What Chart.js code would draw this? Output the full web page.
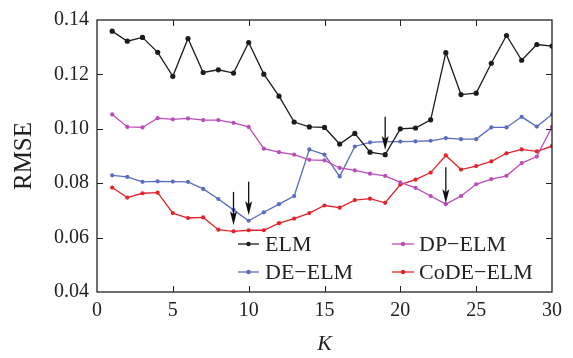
<!DOCTYPE html>
<html>
<head>
<meta charset="utf-8">
<script src="https://cdn.jsdelivr.net/npm/chart.js@4.4.1/dist/chart.umd.min.js"></script>
<style>
  html, body { margin: 0; padding: 0; background: #fff; }
  #wrap { width: 573px; height: 358px; }
</style>
</head>
<body>
<div id="wrap"><canvas id="grafico" width="573" height="358"></canvas></div>
<script>
// K values (x axis)
const kValues = [1, 2, 3, 4, 5, 6, 7, 8, 9, 10, 11, 12, 13, 14, 15, 16, 17, 18, 19, 20, 21, 22, 23, 24, 25, 26, 27, 28, 29, 30];

// RMSE per method
const elm = [0.1359, 0.1322, 0.1336, 0.1281, 0.1193, 0.1332, 0.1207, 0.1217, 0.1205, 0.1317,
             0.1201, 0.1120, 0.1025, 0.1007, 0.1005, 0.0944, 0.0983, 0.0914, 0.0905, 0.1000,
             0.1003, 0.1033, 0.1280, 0.1126, 0.1131, 0.1241, 0.1343, 0.1252, 0.1310, 0.1304];
const dpElm = [0.1053, 0.1007, 0.1005, 0.1039, 0.1035, 0.1038, 0.1032, 0.1032, 0.1022, 0.1007,
               0.0927, 0.0914, 0.0905, 0.0886, 0.0884, 0.0856, 0.0847, 0.0835, 0.0827, 0.0803,
               0.0783, 0.0753, 0.0723, 0.0753, 0.0796, 0.0815, 0.0827, 0.0874, 0.0898, 0.1007];
const deElm = [0.0829, 0.0823, 0.0805, 0.0807, 0.0806, 0.0805, 0.0779, 0.0742, 0.0702, 0.0662,
               0.0693, 0.0723, 0.0753, 0.0924, 0.0905, 0.0825, 0.0935, 0.0950, 0.0953, 0.0953,
               0.0954, 0.0956, 0.0966, 0.0962, 0.0962, 0.1005, 0.1005, 0.1044, 0.1008, 0.1053];
const codeElm = [0.0784, 0.0747, 0.0763, 0.0765, 0.0690, 0.0672, 0.0674, 0.0629, 0.0623, 0.0627,
                 0.0627, 0.0653, 0.0670, 0.0690, 0.0718, 0.0710, 0.0738, 0.0743, 0.0728, 0.0795,
                 0.0813, 0.0839, 0.0902, 0.0850, 0.0863, 0.0880, 0.0910, 0.0924, 0.0917, 0.0936];

// arrows marking the minima (K, start value, tip value)
const arrowK = [9, 10, 19, 23];
const arrowFrom = [0.0768, 0.0805, 0.1044, 0.0859];
const arrowTo = [0.0645, 0.0682, 0.0922, 0.0726];

// axis ticks
const xTicks = [0, 5, 10, 15, 20, 25, 30];
const yTicks = [0.04, 0.06, 0.08, 0.10, 0.12, 0.14];

const serif = '"Liberation Serif", "DejaVu Serif", serif';

function puntos(valores) {
    return kValues.map((k, i) => ({ x: k, y: valores[i] }));
}

// frame, inward ticks, arrows and the legend inside the plot
const decoraciones = {
    id: 'decoraciones',
    afterDraw(chart, args, opts) {
        const ctx = chart.ctx;
        const area = chart.chartArea;
        const sx = chart.scales.x;
        const sy = chart.scales.y;
        ctx.save();

        ctx.strokeStyle = '#222';
        ctx.lineWidth = 1.3;
        ctx.strokeRect(area.left, area.top, area.right - area.left, area.bottom - area.top);

        ctx.lineWidth = 1;
        const t = 6;
        xTicks.slice(1, -1).forEach(v => {
            const px = Math.round(sx.getPixelForValue(v)) + 0.5;
            ctx.beginPath();
            ctx.moveTo(px, area.bottom); ctx.lineTo(px, area.bottom - t);
            ctx.moveTo(px, area.top); ctx.lineTo(px, area.top + t);
            ctx.stroke();
        });
        yTicks.slice(1, -1).forEach(v => {
            const py = Math.round(sy.getPixelForValue(v)) + 0.5;
            ctx.beginPath();
            ctx.moveTo(area.left, py); ctx.lineTo(area.left + t, py);
            ctx.moveTo(area.right, py); ctx.lineTo(area.right - t, py);
            ctx.stroke();
        });

        // arrows
        ctx.strokeStyle = '#111';
        ctx.fillStyle = '#111';
        arrowK.forEach((k, i) => {
            const px = sx.getPixelForValue(k);
            const y0 = sy.getPixelForValue(arrowFrom[i]);
            const y1 = sy.getPixelForValue(arrowTo[i]);
            ctx.lineWidth = 1.3;
            ctx.beginPath();
            ctx.moveTo(px, y0); ctx.lineTo(px, y1 - 8);
            ctx.stroke();
            ctx.beginPath();
            ctx.moveTo(px, y1);
            ctx.lineTo(px - 3.5, y1 - 14);
            ctx.lineTo(px, y1 - 11);
            ctx.lineTo(px + 3.5, y1 - 14);
            ctx.closePath();
            ctx.fill();
        });

        // legend
        ctx.font = '22px ' + serif;
        ctx.textBaseline = 'middle';
        ctx.textAlign = 'left';
        opts.items.forEach(item => {
            const ds = chart.data.datasets[item.dataset];
            ctx.strokeStyle = ds.borderColor;
            ctx.fillStyle = ds.borderColor;
            ctx.lineWidth = 1.3;
            ctx.beginPath();
            ctx.moveTo(item.x0, item.y); ctx.lineTo(item.x1, item.y);
            ctx.stroke();
            ctx.beginPath();
            ctx.arc((item.x0 + item.x1) / 2, item.y, 2.2, 0, Math.PI * 2);
            ctx.fill();
            ctx.fillStyle = '#222';
            ctx.fillText(ds.label, item.tx, item.y + 1);
        });

        ctx.restore();
    }
};

function serie(label, valores, color, radio) {
    return {
        label: label,
        data: puntos(valores),
        borderColor: color,
        backgroundColor: color,
        borderWidth: 1.3,
        pointRadius: radio,
        pointBorderWidth: 0,
        tension: 0
    };
}

const canvas = document.getElementById('grafico');

new Chart(canvas.getContext('2d'), {
    type: 'line',
    data: {
        datasets: [
            serie('ELM', elm, '#1c1c1c', 2.6),
            serie('DP\u2212ELM', dpElm, '#bb4cb8', 2.1),
            serie('DE\u2212ELM', deElm, '#5a6cc0', 2.1),
            serie('CoDE\u2212ELM', codeElm, '#e3232b', 2.1)
        ]
    },
    options: {
        responsive: false,
        animation: false,
        layout: { padding: { left: 0, right: 21, top: 17, bottom: 0 } },
        plugins: {
            legend: { display: false },
            tooltip: { enabled: false },
            decoraciones: {
                items: [
                    { dataset: 0, x0: 238, x1: 259, tx: 265, y: 244 },
                    { dataset: 2, x0: 238, x1: 259, tx: 265, y: 272 },
                    { dataset: 1, x0: 392, x1: 414, tx: 419, y: 244 },
                    { dataset: 3, x0: 392, x1: 414, tx: 419, y: 272 }
                ]
            }
        },
        scales: {
            x: {
                type: 'linear',
                min: 0,
                max: 30,
                grid: { display: false, drawTicks: false },
                border: { display: false },
                afterFit: s => { s.height = 66; },
                afterBuildTicks: s => { s.ticks = xTicks.map(v => ({ value: v })); },
                ticks: {
                    color: '#222',
                    padding: 7,
                    maxRotation: 0,
                    font: { family: serif, size: 20 }
                },
                title: {
                    display: true,
                    text: 'K',
                    color: '#222',
                    padding: { top: 0, bottom: 1 },
                    font: { family: serif, size: 22, style: 'italic' }
                }
            },
            y: {
                min: 0.04,
                max: 0.14,
                grid: { display: false, drawTicks: false },
                border: { display: false },
                afterFit: s => { s.width = 97; },
                afterBuildTicks: s => { s.ticks = yTicks.map(v => ({ value: v })); },
                ticks: {
                    color: '#222',
                    padding: 8,
                    font: { family: serif, size: 20 },
                    callback: v => v.toFixed(2)
                },
                title: {
                    display: true,
                    text: 'RMSE',
                    color: '#222',
                    padding: { top: 9, bottom: 0 },
                    font: { family: serif, size: 25 }
                }
            }
        }
    },
    plugins: [decoraciones]
});
</script>
</body>
</html>
